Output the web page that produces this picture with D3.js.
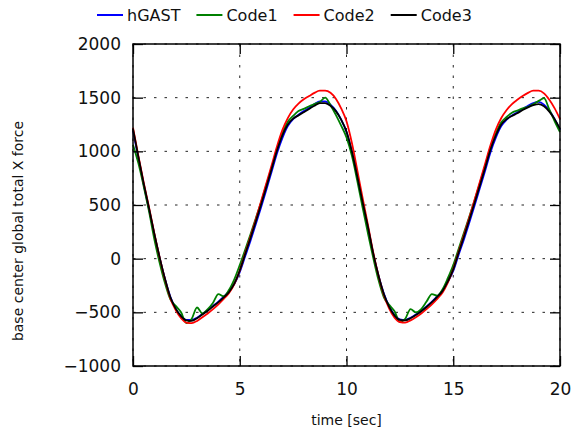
<!DOCTYPE html>
<html>
<head>
<meta charset="utf-8">
<script src="https://cdn.jsdelivr.net/npm/d3@7"></script>
<style>
  body { margin: 0; background: #fff; }
  svg { display: block; font-family: "DejaVu Sans", sans-serif; }
</style>
</head>
<body>
<svg id="chart" width="573" height="439"></svg>
<script>
const time = [
  0, 0.25, 0.5, 0.75, 1, 1.25, 1.5, 1.75, 2, 2.25, 2.5, 2.75, 3, 3.25, 3.5, 3.75,
  4, 4.25, 4.5, 4.75, 5, 5.25, 5.5, 5.75, 6, 6.25, 6.5, 6.75, 7, 7.25, 7.5, 7.75,
  8, 8.25, 8.5, 8.75, 9, 9.25, 9.5, 9.75, 10, 10.25, 10.5, 10.75, 11, 11.25, 11.5, 11.75,
  12, 12.25, 12.5, 12.75, 13, 13.25, 13.5, 13.75, 14, 14.25, 14.5, 14.75, 15, 15.25, 15.5, 15.75,
  16, 16.25, 16.5, 16.75, 17, 17.25, 17.5, 17.75, 18, 18.25, 18.5, 18.75, 19, 19.25, 19.5, 19.75, 20
];

const hGAST = [
  1190, 940, 690, 460, 225, 5, -190, -355, -465, -535, -570, -570, -550, -515, -480, -440,
  -400, -355, -305, -235, -125, 20, 165, 320, 480, 645, 815, 985, 1125, 1235, 1300, 1340,
  1375, 1405, 1440, 1465, 1465, 1435, 1380, 1295, 1180, 995, 765, 525, 295, 45, -160, -325,
  -445, -525, -565, -570, -550, -520, -485, -445, -400, -350, -300, -215, -115, 35, 180, 335,
  495, 660, 825, 995, 1130, 1235, 1295, 1335, 1365, 1395, 1425, 1450, 1460, 1435, 1380, 1300, 1200
];

const code1 = [
  1060, 890, 675, 440, 180, -40, -230, -380, -440, -500, -600, -560, -455, -510, -470, -410,
  -330, -350, -290, -190, -60, 80, 225, 375, 525, 690, 855, 1025, 1170, 1275, 1330, 1375,
  1395, 1420, 1440, 1460, 1500, 1430, 1340, 1240, 1130, 960, 730, 480, 240, 10, -200, -360,
  -430, -490, -590, -560, -470, -500, -470, -400, -330, -345, -285, -180, -60, 90, 240, 390,
  545, 705, 870, 1040, 1170, 1270, 1320, 1360, 1380, 1400, 1415, 1440, 1470, 1495, 1390, 1280, 1180
];

const code2 = [
  1220, 960, 710, 480, 235, 10, -195, -370, -480, -555, -595, -600, -580, -545, -510, -470,
  -425, -375, -320, -235, -110, 50, 205, 365, 535, 705, 875, 1050, 1200, 1310, 1390, 1445,
  1485, 1515, 1545, 1565, 1565, 1545, 1490, 1400, 1280, 1080, 830, 570, 320, 60, -160, -340,
  -465, -550, -590, -595, -575, -545, -510, -470, -425, -375, -315, -220, -95, 65, 220, 380,
  550, 720, 890, 1060, 1205, 1310, 1385, 1440, 1480, 1515, 1545, 1565, 1565, 1540, 1480, 1400, 1300
];

const code3 = [
  1210, 950, 700, 470, 230, 10, -190, -360, -465, -535, -575, -580, -555, -520, -485, -445,
  -405, -360, -310, -230, -110, 40, 190, 345, 505, 670, 840, 1010, 1150, 1250, 1305, 1335,
  1365, 1395, 1425, 1450, 1450, 1425, 1375, 1295, 1185, 1000, 770, 530, 300, 50, -160, -330,
  -450, -530, -570, -575, -555, -525, -490, -450, -405, -355, -300, -210, -100, 55, 205, 360,
  520, 685, 850, 1020, 1150, 1250, 1300, 1330, 1355, 1385, 1410, 1430, 1440, 1420, 1370, 1300, 1210
];

const seriesNames = ['hGAST', 'Code1', 'Code2', 'Code3'];
const seriesValues = [hGAST, code1, code2, code3];
const seriesColors = ['#0000ff', '#008000', '#ff0000', '#000000'];

const xTicks = [0, 5, 10, 15, 20];
const yTicks = [-1000, -500, 0, 500, 1000, 1500, 2000];

const width = 573;
const height = 439;
const margin = { top: 44, right: 13, bottom: 73, left: 133 };
const plotW = width - margin.left - margin.right;
const plotH = height - margin.top - margin.bottom;

const svg = d3.select('#chart');
const g = svg.append('g')
  .attr('transform', `translate(${margin.left},${margin.top})`);

const x = d3.scaleLinear().domain([0, 20]).range([0, plotW]);
const y = d3.scaleLinear().domain([-1000, 2000]).range([plotH, 0]);

// dotted grid
g.append('g')
  .selectAll('line')
  .data(xTicks)
  .enter()
  .append('line')
  .attr('x1', (d) => x(d))
  .attr('x2', (d) => x(d))
  .attr('y1', 0)
  .attr('y2', plotH)
  .style('stroke', '#222')
  .style('stroke-width', 1)
  .style('stroke-dasharray', '2.5,8');

g.append('g')
  .selectAll('line')
  .data(yTicks)
  .enter()
  .append('line')
  .attr('x1', 0)
  .attr('x2', plotW)
  .attr('y1', (d) => y(d))
  .attr('y2', (d) => y(d))
  .style('stroke', '#222')
  .style('stroke-width', 1)
  .style('stroke-dasharray', '2.5,8');

const line = d3.line()
  .x((d) => x(d[0]))
  .y((d) => y(d[1]))
  .curve(d3.curveMonotoneX);

seriesValues.forEach((vals, i) => {
  g.append('path')
    .datum(time.map((t, j) => [t, vals[j]]))
    .attr('d', line)
    .style('fill', 'none')
    .style('stroke', seriesColors[i])
    .style('stroke-width', 1.8)
    .style('stroke-linejoin', 'round');
});

const styleAxis = (sel) => {
  sel.select('.domain').remove();
  sel.selectAll('.tick line').style('stroke', '#000').style('stroke-width', 1.3);
  sel.selectAll('.tick text')
    .style('font-size', '17px')
    .style('font-family', '"DejaVu Sans", sans-serif')
    .style('fill', '#111');
};

g.append('g')
  .attr('transform', `translate(0,${plotH})`)
  .call(d3.axisBottom(x).tickValues(xTicks).tickSize(-10).tickSizeOuter(0).tickPadding(17))
  .call(styleAxis);

g.append('g')
  .call(d3.axisTop(x).tickValues(xTicks).tickSize(-10).tickSizeOuter(0).tickFormat(''))
  .call(styleAxis);

g.append('g')
  .call(d3.axisLeft(y).tickValues(yTicks).tickSize(-10).tickSizeOuter(0).tickPadding(12)
    .tickFormat((d) => d3.format('d')(d).replace('-', '\u2212')))
  .call(styleAxis);

g.append('g')
  .attr('transform', `translate(${plotW},0)`)
  .call(d3.axisRight(y).tickValues(yTicks).tickSize(-10).tickSizeOuter(0).tickFormat(''))
  .call(styleAxis);

g.append('rect')
  .attr('width', plotW)
  .attr('height', plotH)
  .style('fill', 'none')
  .style('stroke', '#000')
  .style('stroke-width', 1.5);

svg.append('text')
  .attr('x', margin.left + plotW / 2)
  .attr('y', 425)
  .attr('text-anchor', 'middle')
  .style('font-size', '14px')
  .style('fill', '#111')
  .text('time [sec]');

svg.append('text')
  .attr('transform', 'translate(23,231) rotate(-90)')
  .attr('text-anchor', 'middle')
  .style('font-size', '14px')
  .style('fill', '#111')
  .text('base center global total X force');

// legend across the top
const legend = svg.append('g').attr('class', 'legend');
let lx = 97;
seriesNames.forEach((name, i) => {
  legend.append('line')
    .attr('x1', lx)
    .attr('x2', lx + 26)
    .attr('y1', 15)
    .attr('y2', 15)
    .style('stroke', seriesColors[i])
    .style('stroke-width', 2);
  const label = legend.append('text')
    .attr('x', lx + 30)
    .attr('y', 21)
    .style('font-size', '16px')
    .style('fill', '#111')
    .text(name);
  lx += 30 + label.node().getComputedTextLength() + 16;
});
</script>
</body>
</html>
